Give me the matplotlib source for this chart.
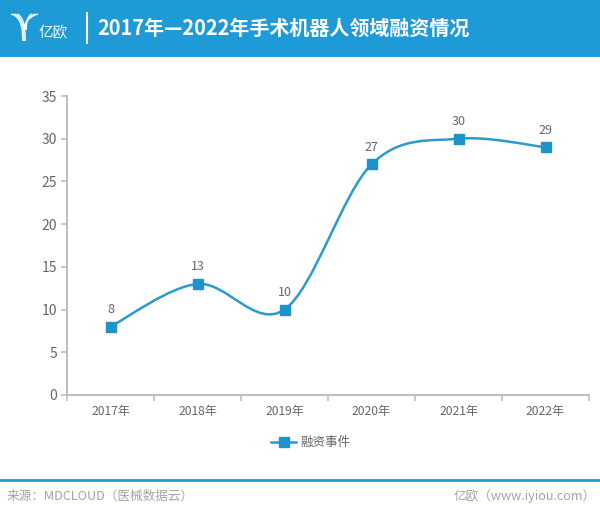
import matplotlib
matplotlib.use("Agg")
import matplotlib.pyplot as plt
from matplotlib.path import Path
from matplotlib.patches import PathPatch, Rectangle

plt.rcParams['font.family'] = ['Noto Sans CJK SC', 'DejaVu Sans']

years = ['2017年', '2018年', '2019年', '2020年', '2021年', '2022年']
events = [8, 13, 10, 27, 30, 29]
series_name = '融资事件'
title = '2017年—2022年手术机器人领域融资情况'
source = '来源：MDCLOUD（医械数据云）'
brand = '亿欧（www.iyiou.com）'

blue = '#1e9bd7'
line_blue = '#2a9acf'
grey_txt = '#666666'
axis_grey = '#bfbfbf'

fig = plt.figure(figsize=(6.0, 5.14), dpi=100)

# overlay in pixel coordinates for header / footer
bg = fig.add_axes([0, 0, 1, 1])
bg.set_xlim(0, 600)
bg.set_ylim(514, 0)
bg.axis('off')
bg.add_patch(Rectangle((0, 0), 600, 57, color=blue, lw=0))

# rough logo: a striped "Y"
for dx in (-3, 0, 3):
    verts = [(14 + dx, 14), (20 + dx * 0.5, 16), (24 + dx * 0.4, 22), (24 + dx * 0.4, 41)]
    bg.add_patch(PathPatch(Path(verts, [Path.MOVETO, Path.CURVE4, Path.CURVE4, Path.CURVE4]),
                           fc='none', ec='white', lw=1.1, alpha=0.9))
    verts = [(35 - dx, 14), (29 - dx * 0.5, 16), (25 + dx * 0.4, 22), (25 + dx * 0.4, 30)]
    bg.add_patch(PathPatch(Path(verts, [Path.MOVETO, Path.CURVE4, Path.CURVE4, Path.CURVE4]),
                           fc='none', ec='white', lw=1.1, alpha=0.9))
bg.text(39, 33, '亿欧', color='white', fontsize=10.5, va='center', ha='left', alpha=0.95)
bg.plot([87, 87], [13, 43], color='white', lw=1.5)
bg.text(97, 28, title, color='white', fontsize=14.4, fontweight='bold', va='center', ha='left')

# footer
bg.plot([0, 600], [480, 480], color=blue, lw=2)
bg.text(7, 496, source, color='#a3a3a3', fontsize=9.1, va='center', ha='left')
bg.text(596, 496, brand, color='#a3a3a3', fontsize=9.1, va='center', ha='right')

# chart
ax = fig.add_axes([67 / 600, 1 - 395 / 514, 522 / 600, 299 / 514])
ax.set_facecolor('none')
x = list(range(len(years)))

# smoothed line (catmull-rom style bezier through the data points)
verts = [(x[0], events[0])]
codes = [Path.MOVETO]
n = len(x)
for i in range(n - 1):
    p0 = (x[max(i - 1, 0)], events[max(i - 1, 0)])
    p1 = (x[i], events[i])
    p2 = (x[i + 1], events[i + 1])
    p3 = (x[min(i + 2, n - 1)], events[min(i + 2, n - 1)])
    c1 = (p1[0] + (p2[0] - p0[0]) / 6, p1[1] + (p2[1] - p0[1]) / 6)
    c2 = (p2[0] - (p3[0] - p1[0]) / 6, p2[1] - (p3[1] - p1[1]) / 6)
    verts += [c1, c2, p2]
    codes += [Path.CURVE4] * 3
ax.add_patch(PathPatch(Path(verts, codes), fc='none', ec=line_blue, lw=1.8, zorder=2))
ax.plot(x, events, ls='none', marker='s', ms=6.5, color='#1e92cc', zorder=3)
ax.plot([], [], color=line_blue, lw=1.8, marker='s', ms=6.5, mfc='#1e92cc', mec='#1e92cc',
        label=series_name)

for xi, v in zip(x, events):
    ax.text(xi, v + 2.0, str(v), ha='center', va='center', fontsize=9, color=grey_txt)

ax.set_xlim(-0.5, n - 0.5)
ax.set_ylim(0, 35)
ax.set_yticks(range(0, 36, 5))
ax.set_xticks(x)
ax.set_xticklabels(years)
ax.set_xticks([i - 0.5 for i in range(n + 1)], minor=True)
ax.tick_params(axis='x', which='major', length=0, pad=7, labelsize=8.7, labelcolor=grey_txt)
ax.tick_params(axis='x', which='minor', length=4, color=axis_grey, width=1.2)
ax.tick_params(axis='y', length=4, color=axis_grey, width=1.2, labelsize=10,
               labelcolor=grey_txt, pad=3)
for s in ('top', 'right'):
    ax.spines[s].set_visible(False)
for s in ('left', 'bottom'):
    ax.spines[s].set_color(axis_grey)
    ax.spines[s].set_linewidth(1.5)

leg = ax.legend(loc='center', bbox_to_anchor=(0.467, -0.16), frameon=False, fontsize=9,
                handlelength=2.0, handletextpad=0.3)
for t in leg.get_texts():
    t.set_color(grey_txt)

fig.savefig('out.png', dpi=100)
